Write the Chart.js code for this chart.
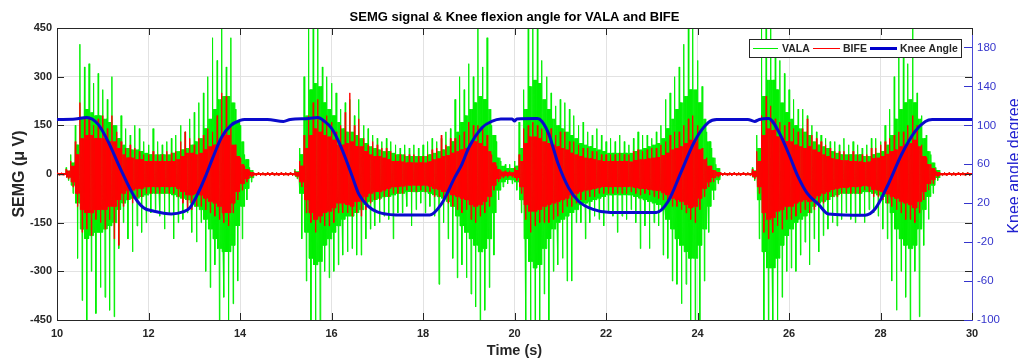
<!DOCTYPE html>
<html lang="en">

<head>
    <meta charset="UTF-8">
    <title>SEMG signal & Knee flexion angle</title>
    <script src="https://cdn.jsdelivr.net/npm/chart.js@4.4.0/dist/chart.umd.min.js"></script>
    <style>
        html, body { margin: 0; padding: 0; background: #fff; }
        .grafico { width: 1018px; height: 359px; position: relative; }
    </style>
</head>

<body>
    <div class="grafico"><canvas id="semgChart"></canvas></div>

<script>
// ---- data ----
// EMG envelopes in 0.1 s bins starting at 10 s (uV): positive peak, negative peak, dense core
const binStart = 10;
const binWidth = 0.1;

const valaPos = [
    3, 3, 20, 60, 150, 400, 330, 340, 280, 310,
    260, 230, 300, 150, 180, 140, 120, 150, 140, 100,
    90, 140, 100, 90, 100, 110, 120, 150, 130, 170,
    190, 220, 250, 300, 420, 350, 460, 330, 420, 200,
    150, 60, 20, 4, 4, 4, 4, 4, 4, 4,
    4, 4, 15, 80, 300, 460, 460, 460, 330, 300,
    280, 250, 200, 220, 230, 180, 230, 150, 140, 120,
    110, 100, 110, 100, 90, 80, 90, 80, 90, 80,
    90, 100, 110, 100, 110, 130, 140, 230, 300, 260,
    340, 300, 460, 330, 420, 150, 100, 40, 30, 30,
    40, 160, 260, 460, 460, 460, 350, 300, 250, 210,
    230, 220, 200, 180, 150, 160, 130, 120, 140, 120,
    100, 110, 100, 120, 100, 90, 110, 130, 120, 120,
    110, 130, 150, 230, 250, 300, 330, 400, 460, 460,
    350, 270, 130, 80, 30, 4, 4, 4, 4, 4,
    4, 4, 20, 120, 460, 460, 460, 400, 350, 310,
    260, 230, 200, 200, 180, 150, 130, 120, 110, 100,
    100, 90, 110, 90, 100, 90, 80, 90, 110, 110,
    100, 150, 200, 300, 380, 400, 340, 450, 250, 180,
    120, 60, 20, 4, 4, 4, 4, 4, 4, 4
];
const valaNeg = [
    3, 3, 20, 60, 260, 390, 450, 300, 430, 350,
    380, 420, 440, 230, 150, 200, 240, 160, 180, 150,
    120, 110, 130, 170, 120, 200, 150, 140, 120, 180,
    210, 150, 300, 350, 280, 460, 380, 460, 400, 330,
    200, 80, 25, 4, 4, 4, 4, 4, 4, 4,
    4, 4, 15, 200, 330, 460, 460, 460, 300, 320,
    300, 280, 250, 240, 230, 250, 250, 200, 170, 160,
    150, 130, 140, 200, 120, 120, 100, 160, 110, 90,
    120, 100, 130, 340, 150, 200, 260, 320, 280, 320,
    370, 410, 460, 420, 350, 250, 80, 40, 30, 30,
    50, 120, 460, 460, 460, 460, 370, 460, 300, 280,
    260, 330, 330, 150, 150, 200, 150, 130, 140, 160,
    120, 130, 180, 130, 140, 110, 150, 230, 160, 230,
    150, 160, 250, 260, 330, 340, 400, 340, 460, 460,
    460, 330, 180, 80, 30, 4, 4, 4, 4, 4,
    4, 4, 20, 200, 460, 460, 460, 460, 380, 300,
    290, 300, 250, 210, 280, 200, 240, 190, 170, 150,
    160, 140, 120, 140, 150, 130, 150, 110, 120, 130,
    170, 200, 330, 420, 300, 380, 460, 300, 440, 220,
    140, 60, 20, 4, 4, 4, 4, 4, 4, 4
];
const valaCore = [
    2, 2, 10, 35, 90, 170, 200, 190, 180, 180,
    170, 160, 150, 110, 90, 80, 75, 75, 70, 65,
    60, 60, 60, 60, 60, 65, 70, 75, 80, 90,
    100, 110, 140, 170, 200, 230, 240, 240, 220, 160,
    100, 45, 12, 2, 2, 2, 2, 2, 2, 2,
    2, 2, 8, 60, 180, 260, 280, 270, 220, 200,
    180, 160, 140, 130, 130, 120, 110, 95, 85, 80,
    75, 70, 70, 65, 60, 60, 55, 55, 55, 55,
    55, 60, 65, 70, 75, 85, 100, 130, 160, 180,
    200, 220, 240, 230, 200, 120, 50, 25, 18, 18,
    25, 80, 200, 270, 290, 280, 230, 200, 170, 150,
    140, 130, 120, 110, 95, 90, 85, 80, 75, 70,
    65, 65, 65, 65, 65, 65, 70, 75, 80, 85,
    90, 95, 110, 140, 170, 200, 220, 240, 260, 260,
    220, 170, 100, 50, 18, 2, 2, 2, 2, 2,
    2, 2, 10, 80, 240, 290, 290, 260, 220, 190,
    170, 150, 140, 130, 120, 100, 90, 85, 80, 70,
    65, 60, 60, 60, 60, 60, 55, 55, 60, 65,
    70, 90, 120, 170, 200, 220, 230, 220, 170, 110,
    70, 35, 12, 2, 2, 2, 2, 2, 2, 2
];

const bifePos = [
    4, 4, 15, 40, 100, 220, 170, 170, 150, 170,
    180, 140, 180, 130, 100, 80, 90, 80, 70, 60,
    60, 70, 60, 60, 70, 65, 70, 100, 130, 110,
    90, 110, 120, 140, 130, 180, 250, 240, 150, 90,
    50, 25, 10, 5, 5, 5, 5, 5, 5, 5,
    5, 5, 10, 40, 120, 180, 220, 230, 170, 180,
    160, 130, 150, 190, 250, 150, 170, 110, 90, 100,
    90, 80, 80, 70, 60, 60, 60, 60, 60, 55,
    55, 60, 75, 80, 120, 90, 110, 110, 120, 130,
    160, 150, 150, 140, 120, 60, 25, 12, 10, 10,
    20, 60, 140, 150, 160, 150, 140, 130, 140, 120,
    130, 130, 100, 100, 90, 80, 80, 70, 70, 60,
    60, 60, 60, 65, 60, 60, 70, 75, 70, 75,
    80, 80, 90, 100, 120, 130, 130, 150, 170, 180,
    150, 80, 50, 25, 10, 5, 5, 5, 5, 5,
    5, 5, 15, 70, 180, 240, 210, 170, 160, 150,
    160, 140, 130, 140, 170, 120, 110, 100, 90, 80,
    70, 70, 70, 60, 70, 60, 60, 60, 80, 80,
    90, 100, 110, 120, 130, 130, 150, 180, 150, 90,
    50, 30, 10, 5, 5, 5, 5, 5, 5, 5
];
const bifeNeg = [
    4, 4, 15, 40, 100, 180, 170, 190, 140, 150,
    170, 140, 200, 220, 100, 80, 90, 70, 70, 60,
    60, 60, 60, 60, 60, 60, 70, 90, 110, 110,
    100, 100, 110, 120, 130, 140, 150, 160, 120, 80,
    50, 25, 10, 5, 5, 5, 5, 5, 5, 5,
    5, 5, 10, 40, 120, 150, 180, 150, 160, 160,
    150, 120, 120, 120, 130, 120, 130, 110, 90, 80,
    80, 70, 70, 60, 60, 60, 50, 55, 55, 50,
    55, 55, 70, 70, 80, 90, 100, 110, 120, 110,
    140, 150, 130, 120, 100, 50, 25, 12, 10, 10,
    20, 60, 140, 180, 160, 150, 150, 150, 140, 130,
    120, 100, 100, 90, 80, 80, 70, 70, 60, 60,
    60, 60, 60, 60, 60, 55, 60, 65, 60, 65,
    70, 75, 80, 90, 100, 100, 110, 120, 140, 150,
    110, 70, 40, 25, 10, 5, 5, 5, 5, 5,
    5, 5, 15, 60, 180, 200, 180, 160, 170, 140,
    140, 130, 120, 110, 120, 110, 100, 90, 80, 70,
    70, 60, 60, 60, 60, 60, 50, 55, 70, 70,
    80, 90, 100, 110, 120, 140, 140, 150, 120, 80,
    50, 30, 10, 5, 5, 5, 5, 5, 5, 5
];
const bifeCore = [
    3, 3, 10, 25, 60, 110, 120, 120, 110, 110,
    110, 100, 100, 80, 60, 50, 50, 45, 45, 40,
    40, 40, 40, 40, 40, 40, 45, 55, 65, 65,
    60, 65, 75, 85, 90, 100, 120, 120, 90, 55,
    30, 15, 6, 3, 3, 3, 3, 3, 3, 3,
    3, 3, 6, 25, 80, 120, 140, 130, 120, 115,
    105, 90, 90, 95, 100, 85, 85, 70, 60, 55,
    55, 50, 45, 40, 40, 38, 35, 35, 35, 35,
    35, 38, 45, 48, 55, 58, 65, 70, 75, 80,
    95, 100, 95, 85, 70, 35, 15, 7, 5, 5,
    12, 40, 95, 115, 115, 110, 100, 95, 90, 85,
    80, 75, 65, 60, 55, 50, 48, 45, 42, 40,
    40, 40, 40, 40, 40, 38, 42, 45, 45, 48,
    50, 52, 58, 65, 75, 80, 85, 95, 105, 100,
    75, 45, 25, 12, 6, 3, 3, 3, 3, 3,
    3, 3, 8, 40, 120, 140, 135, 115, 110, 100,
    100, 90, 85, 80, 85, 75, 68, 60, 55, 48,
    45, 42, 42, 40, 40, 38, 36, 38, 48, 50,
    55, 62, 70, 75, 85, 90, 95, 105, 85, 55,
    30, 18, 6, 3, 3, 3, 3, 3, 3, 3
];

// knee flexion angle (degree)
const kneeTime = [10.0, 10.4, 10.65, 10.9, 11.1, 11.4, 11.7, 11.9, 12.1, 12.5, 12.75, 12.9, 13.1, 13.25, 13.4, 13.6, 13.8, 14.0, 14.1, 14.6,
    14.95, 15.1, 15.5, 15.7, 15.85, 16.0, 16.15, 16.3, 16.45, 16.6, 16.8, 17.0, 17.4, 18.15, 18.4, 18.7, 18.85, 19.0, 19.3, 19.5,
    19.7, 19.95, 20.0, 20.05, 20.5, 20.6, 20.75, 20.95, 21.18, 21.4, 21.7, 22.1, 23.1, 23.36, 23.65, 23.94, 24.24, 24.42, 25.1, 25.25,
    25.35, 25.55, 25.77, 26.0, 26.2, 26.4, 26.64, 26.86, 27.66, 27.88, 28.17, 28.46, 28.76, 28.98, 29.13, 30.0];
const kneeAngle = [106, 106.5, 108, 101, 85, 54, 26, 15, 12, 9, 11, 15, 32, 48, 66, 88, 100, 105, 106, 106,
    104, 106, 107, 108, 104, 97, 84, 67, 48, 29, 17, 11, 8, 8, 19, 47, 60, 77, 98, 104,
    106.5, 106.5, 104.5, 106.5, 107, 104, 91, 61, 36, 22, 14, 10.5, 10.5, 22, 53, 84, 103, 106, 106, 104,
    106, 107, 94, 70, 47, 30, 19, 9, 7.7, 14, 39.5, 70, 94, 104, 106, 106];

const xTicks = [10, 12, 14, 16, 18, 20, 22, 24, 26, 28, 30];
const semgTicks = [-450, -300, -150, 0, 150, 300, 450];
const angleTicks = [-100, -60, -20, 20, 60, 100, 140, 180];

// ---- build the dense EMG trace from the envelopes ----
function montarSinal(pos, neg, core) {
    const pts = [];
    for (let i = 0; i < pos.length; i++) {
        const t = binStart + i * binWidth;
        const c = core[i];
        const seq = [pos[i], -c, c, -c, c, -neg[i], c, -c, c, -c];
        for (let k = 0; k < seq.length; k++) {
            pts.push({ x: t + k * binWidth / seq.length, y: seq[k] });
        }
    }
    return pts;
}

const kneePoints = kneeTime.map((t, i) => ({ x: t, y: kneeAngle[i] }));

const FONT = "'Liberation Sans', Arial, Helvetica, sans-serif";
const DARK = '#262626';
const BLUE_AX = '#3434cc';

// titles, top border, inward ticks and the legend box
const decoracao = {
    id: 'decoracao',
    afterDraw(chart) {
        const { ctx, chartArea: a, scales } = chart;
        ctx.save();

        // top border
        ctx.strokeStyle = DARK;
        ctx.lineWidth = 1;
        ctx.beginPath();
        ctx.moveTo(a.left, a.top + 0.5);
        ctx.lineTo(a.right, a.top + 0.5);
        ctx.stroke();

        // inward ticks
        ctx.beginPath();
        xTicks.forEach(v => {
            const x = Math.round(scales.x.getPixelForValue(v)) + 0.5;
            ctx.moveTo(x, a.bottom); ctx.lineTo(x, a.bottom - 7);
            ctx.moveTo(x, a.top); ctx.lineTo(x, a.top + 7);
        });
        semgTicks.forEach(v => {
            const y = Math.round(scales.y.getPixelForValue(v)) + 0.5;
            ctx.moveTo(a.left, y); ctx.lineTo(a.left + 7, y);
            ctx.moveTo(a.right, y); ctx.lineTo(a.right - 7, y);
        });
        ctx.stroke();
        ctx.strokeStyle = BLUE_AX;
        ctx.beginPath();
        angleTicks.forEach(v => {
            const y = Math.round(scales.y1.getPixelForValue(v)) + 0.5;
            ctx.moveTo(a.right, y); ctx.lineTo(a.right - 8, y);
        });
        ctx.stroke();

        // title
        ctx.fillStyle = '#000';
        ctx.textAlign = 'center';
        ctx.textBaseline = 'alphabetic';
        ctx.font = 'bold 13px ' + FONT;
        ctx.fillText('SEMG signal & Knee flexion angle for VALA and BIFE', (a.left + a.right) / 2, 21);

        // x title
        ctx.fillStyle = DARK;
        ctx.font = 'bold 14.5px ' + FONT;
        ctx.fillText('Time (s)', (a.left + a.right) / 2, 355);

        // left y title
        ctx.save();
        ctx.translate(24, (a.top + a.bottom) / 2);
        ctx.rotate(-Math.PI / 2);
        ctx.font = 'bold 16px ' + FONT;
        ctx.fillText('SEMG (\u03bc V)', 0, 0);
        ctx.restore();

        // right y title
        ctx.save();
        ctx.translate(1019, 166);
        ctx.rotate(-Math.PI / 2);
        ctx.fillStyle = '#2020d0';
        ctx.font = '16px ' + FONT;
        ctx.fillText('Knee angle degree', 0, 0);
        ctx.restore();

        // legend
        const L = a.right - 223, T = a.top + 11, W = 212, H = 18, cy = T + H / 2;
        ctx.fillStyle = '#fff';
        ctx.fillRect(L, T, W, H);
        ctx.strokeStyle = DARK;
        ctx.lineWidth = 1;
        ctx.strokeRect(L + 0.5, T + 0.5, W, H);
        const itens = [
            { cor: '#00ee00', larg: 1, x0: 4, x1: 29, tx: 33, txt: 'VALA' },
            { cor: '#ff0000', larg: 1, x0: 64, x1: 91, tx: 94, txt: 'BIFE' },
            { cor: '#0000cc', larg: 3, x0: 121, x1: 148, tx: 151, txt: 'Knee Angle' }
        ];
        ctx.font = 'bold 10.5px ' + FONT;
        ctx.textAlign = 'left';
        ctx.textBaseline = 'middle';
        itens.forEach(it => {
            ctx.strokeStyle = it.cor;
            ctx.lineWidth = it.larg;
            ctx.beginPath();
            ctx.moveTo(L + it.x0, cy + 0.5);
            ctx.lineTo(L + it.x1, cy + 0.5);
            ctx.stroke();
            ctx.fillStyle = DARK;
            ctx.fillText(it.txt, L + it.tx, cy + 1);
        });

        ctx.restore();
    }
};

new Chart(document.getElementById('semgChart'), {
    type: 'line',
    data: {
        datasets: [
            {
                label: 'VALA',
                data: montarSinal(valaPos, valaNeg, valaCore),
                borderColor: '#00f000',
                borderWidth: 1,
                pointRadius: 0,
                tension: 0,
                yAxisID: 'y',
                order: 3
            },
            {
                label: 'BIFE',
                data: montarSinal(bifePos, bifeNeg, bifeCore),
                borderColor: '#ff0000',
                borderWidth: 1,
                pointRadius: 0,
                tension: 0,
                yAxisID: 'y',
                order: 2
            },
            {
                label: 'Knee Angle',
                data: kneePoints,
                borderColor: '#0a0acc',
                borderWidth: 3,
                pointRadius: 0,
                cubicInterpolationMode: 'monotone',
                yAxisID: 'y1',
                order: 1
            }
        ]
    },
    options: {
        responsive: true,
        maintainAspectRatio: false,
        devicePixelRatio: 1,
        animation: false,
        parsing: false,
        layout: { padding: { top: 28, left: 0, right: 0, bottom: 0 } },
        plugins: {
            legend: { display: false },
            tooltip: { enabled: false }
        },
        scales: {
            x: {
                type: 'linear',
                min: 10,
                max: 30,
                afterBuildTicks: s => { s.ticks = xTicks.map(v => ({ value: v })); },
                afterFit: s => { s.height = 39; },
                ticks: { color: DARK, font: { family: FONT, size: 11, weight: 'bold' }, padding: 7, maxRotation: 0 },
                grid: { color: '#e2e2e2', drawTicks: false },
                border: { color: DARK }
            },
            y: {
                position: 'left',
                min: -450,
                max: 450,
                afterBuildTicks: s => { s.ticks = semgTicks.map(v => ({ value: v })); },
                afterFit: s => { s.width = 57; },
                ticks: { color: DARK, font: { family: FONT, size: 11, weight: 'bold' }, padding: 5 },
                grid: { color: '#e2e2e2', drawTicks: false },
                border: { color: DARK }
            },
            y1: {
                position: 'right',
                min: -100,
                max: 200,
                afterBuildTicks: s => { s.ticks = angleTicks.map(v => ({ value: v })); },
                afterFit: s => { s.width = 46; },
                ticks: { color: BLUE_AX, font: { family: FONT, size: 11.5 }, padding: 5 },
                grid: { display: false, drawTicks: false },
                border: { color: '#4a4ad6' }
            }
        }
    },
    plugins: [decoracao]
});
</script>
</body>

</html>
